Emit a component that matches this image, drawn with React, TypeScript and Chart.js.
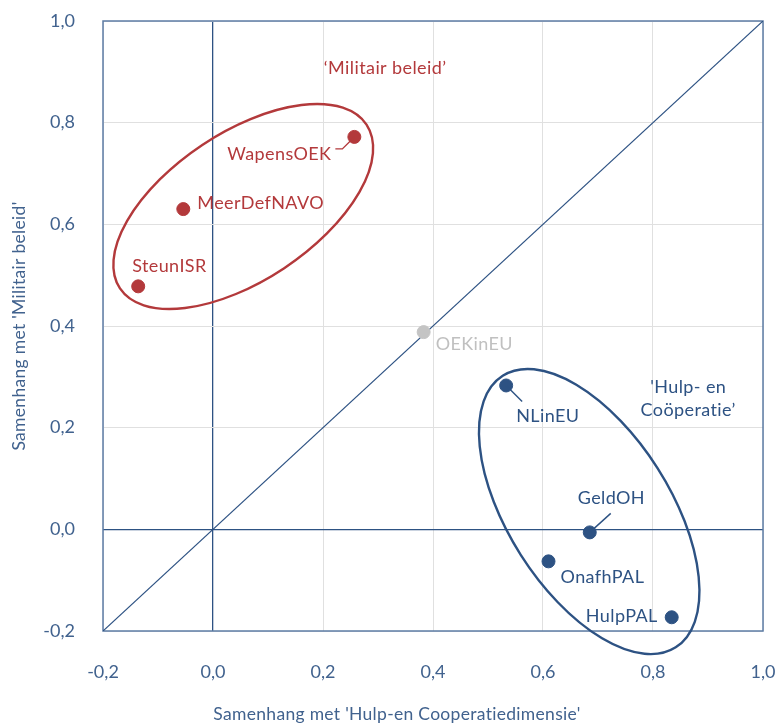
import React, { useEffect, useRef } from 'react';
import { Chart, registerables } from 'chart.js';

Chart.register(...registerables);

// ---- data ----
const MIL_NAMES = ['WapensOEK', 'MeerDefNAVO', 'SteunISR'];
const MIL_X = [0.257, -0.054, -0.136];
const MIL_Y = [0.772, 0.63, 0.478];

const NEUTRAL_NAMES = ['OEKinEU'];
const NEUTRAL_X = [0.383];
const NEUTRAL_Y = [0.388];

const HULP_NAMES = ['NLinEU', 'GeldOH', 'OnafhPAL', 'HulpPAL'];
const HULP_X = [0.533, 0.685, 0.61, 0.834];
const HULP_Y = [0.283, -0.006, -0.063, -0.173];

const DIAGONAL_X = [-0.2, 1.0];
const DIAGONAL_Y = [-0.2, 1.0];

const TICK_LABELS = ['-0,2', '0,0', '0,2', '0,4', '0,6', '0,8', '1,0'];

const X_TITLE = "Samenhang met 'Hulp-en Cooperatiedimensie'";
const Y_TITLE = "Samenhang met 'Militair beleid'";

const MIL_GROUP_TITLE = ['\u2018Militair beleid\u2019'];
const HULP_GROUP_TITLE = ["'Hulp- en", 'Co\u00f6peratie\u2019'];

// ---- styles ----
const RED = '#b3393b';
const BLUE = '#2d5283';
const GREY = '#c4c4c4';
const AXIS_TEXT = '#41628e';
const GRID = '#e0e0e0';
const FRAME = '#5d7ca5';
const FONT = 'Lato, "Open Sans", sans-serif';

type LabelStyle = { dx: number; dy: number; align: CanvasTextAlign; leader?: number[][] };
const LABEL_STYLE: Record<string, LabelStyle> = {
  WapensOEK: { dx: -23, dy: 17, align: 'right', leader: [[0, 0], [-12, 12], [-19, 12]] },
  MeerDefNAVO: { dx: 14, dy: -6, align: 'left' },
  SteunISR: { dx: -6, dy: -20, align: 'left' },
  OEKinEU: { dx: 12, dy: 12, align: 'left' },
  NLinEU: { dx: 10, dy: 31, align: 'left', leader: [[0, 0], [16, 16]] },
  GeldOH: { dx: -12, dy: -34, align: 'left', leader: [[0, 0], [21, -19]] },
  OnafhPAL: { dx: 12, dy: 16, align: 'left' },
  HulpPAL: { dx: -14, dy: -1, align: 'right' },
};

// group annotations (centre in data units; radii in pixels)
const ELLIPSES = [
  { cx: 0.055, cy: 0.635, rx: 148, ry: 74, rot: -33.6, color: RED },
  { cx: 0.684, cy: 0.035, rx: 161, ry: 81, rot: 57.5, color: BLUE },
];
const GROUP_TEXTS = [
  { lines: MIL_GROUP_TITLE, x: 0.313, y: 0.908, color: RED },
  { lines: HULP_GROUP_TITLE, x: 0.864, y: 0.279, color: BLUE },
];

const annotationPlugin = {
  id: 'annotations',
  beforeDatasetsDraw(chart: any) {
    const { ctx, chartArea } = chart;
    const xs = chart.scales.x;
    const ys = chart.scales.y;
    ctx.save();
    ctx.strokeStyle = FRAME;
    ctx.lineWidth = 1.5;
    ctx.strokeRect(chartArea.left, chartArea.top, chartArea.right - chartArea.left, chartArea.bottom - chartArea.top);
    ELLIPSES.forEach((e) => {
      ctx.beginPath();
      ctx.strokeStyle = e.color;
      ctx.lineWidth = 2.4;
      ctx.ellipse(xs.getPixelForValue(e.cx), ys.getPixelForValue(e.cy), e.rx, e.ry, (e.rot * Math.PI) / 180, 0, Math.PI * 2);
      ctx.stroke();
    });
    ctx.restore();
  },
  afterDatasetsDraw(chart: any) {
    const { ctx } = chart;
    const xs = chart.scales.x;
    const ys = chart.scales.y;
    ctx.save();
    ctx.font = `18px ${FONT}`;
    (ctx as any).letterSpacing = '0.4px';
    ctx.textBaseline = 'middle';
    const groups = [
      { names: MIL_NAMES, idx: 1, color: RED },
      { names: NEUTRAL_NAMES, idx: 2, color: '#c0c0c0' },
      { names: HULP_NAMES, idx: 3, color: BLUE },
    ];
    groups.forEach((g) => {
      const meta = chart.getDatasetMeta(g.idx);
      g.names.forEach((name, i) => {
        const el = meta.data[i];
        const st = LABEL_STYLE[name];
        if (!el || !st) return;
        const px = el.x;
        const py = el.y;
        if (st.leader) {
          ctx.beginPath();
          ctx.strokeStyle = g.color;
          ctx.lineWidth = 1.4;
          st.leader.forEach((p, k) => {
            if (k === 0) ctx.moveTo(px + p[0], py + p[1]);
            else ctx.lineTo(px + p[0], py + p[1]);
          });
          ctx.stroke();
        }
        ctx.fillStyle = g.color;
        ctx.textAlign = st.align;
        ctx.fillText(name, px + st.dx, py + st.dy);
      });
    });
    GROUP_TEXTS.forEach((t) => {
      ctx.fillStyle = t.color;
      ctx.textAlign = 'center';
      const x = xs.getPixelForValue(t.x);
      const y = ys.getPixelForValue(t.y);
      t.lines.forEach((line, k) => ctx.fillText(line, x, y + k * 23));
    });
    ctx.restore();
  },
  afterDraw(chart: any) {
    const { ctx, chartArea } = chart;
    ctx.save();
    ctx.fillStyle = AXIS_TEXT;
    ctx.font = `17.5px ${FONT}`;
    (ctx as any).letterSpacing = '0.3px';
    ctx.textAlign = 'center';
    ctx.textBaseline = 'middle';
    ctx.fillText(X_TITLE, 397, 714);
    ctx.translate(19, (chartArea.top + chartArea.bottom) / 2);
    ctx.rotate(-Math.PI / 2);
    ctx.fillText(Y_TITLE, 0, 0);
    ctx.restore();
  },
};

function toPoints(xsArr: number[], ysArr: number[]) {
  return xsArr.map((x, i) => ({ x, y: ysArr[i] }));
}

export default function App() {
  const canvasRef = useRef<HTMLCanvasElement | null>(null);

  useEffect(() => {
    document.body.style.margin = '0';
    const canvas = canvasRef.current;
    if (!canvas) return;
    const tickCb = (_v: any, index: number) => TICK_LABELS[index] ?? '';
    const gridColor = (c: any) => (c.tick && Math.abs(c.tick.value) < 1e-9 ? BLUE : GRID);
    const gridWidth = (c: any) => (c.tick && Math.abs(c.tick.value) < 1e-9 ? 1.3 : 1);
    const chart = new Chart(canvas, {
      type: 'scatter',
      data: {
        datasets: [
          {
            type: 'line',
            data: toPoints(DIAGONAL_X, DIAGONAL_Y),
            borderColor: BLUE,
            borderWidth: 1.2,
            pointRadius: 0,
            fill: false,
            order: 10,
          } as any,
          {
            data: toPoints(MIL_X, MIL_Y),
            backgroundColor: RED,
            borderColor: RED,
            pointRadius: 6.5,
            order: 1,
          },
          {
            data: toPoints(NEUTRAL_X, NEUTRAL_Y),
            backgroundColor: GREY,
            borderColor: GREY,
            pointRadius: 6.5,
            order: 1,
          },
          {
            data: toPoints(HULP_X, HULP_Y),
            backgroundColor: BLUE,
            borderColor: BLUE,
            pointRadius: 6.5,
            order: 1,
          },
        ],
      },
      options: {
        animation: false,
        responsive: true,
        maintainAspectRatio: false,
        layout: { padding: { top: 21, right: 13, left: 0, bottom: 0 } },
        plugins: {
          legend: { display: false },
          tooltip: { enabled: false },
        },
        scales: {
          x: {
            type: 'linear',
            min: -0.2,
            max: 1.0,
            ticks: {
              stepSize: 0.2,
              callback: tickCb,
              color: AXIS_TEXT,
              font: { family: FONT, size: 18 },
              padding: 30,
              maxRotation: 0,
            },
            grid: { color: gridColor, lineWidth: gridWidth, drawTicks: false },
            border: { display: false },
            afterFit: (s: any) => {
              s.height = 93;
              s.paddingLeft = 0;
              s.paddingRight = 0;
            },
          },
          y: {
            type: 'linear',
            min: -0.2,
            max: 1.0,
            ticks: {
              stepSize: 0.2,
              callback: tickCb,
              color: AXIS_TEXT,
              font: { family: FONT, size: 18 },
              padding: 28,
            },
            grid: { color: gridColor, lineWidth: gridWidth, drawTicks: false },
            border: { display: false },
            afterFit: (s: any) => {
              s.width = 103;
              s.paddingTop = 0;
              s.paddingBottom = 0;
            },
          },
        },
      },
      plugins: [annotationPlugin],
    });
    return () => chart.destroy();
  }, []);

  return (
    <div style={{ width: 776, height: 724, position: 'relative' }}>
      <canvas ref={canvasRef} />
    </div>
  );
}
